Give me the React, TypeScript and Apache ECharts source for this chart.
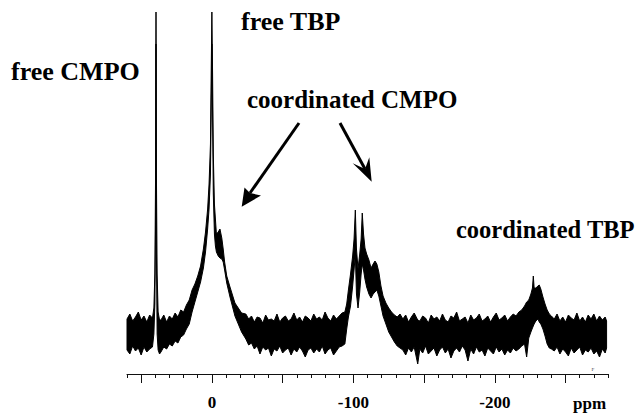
import React, { useEffect, useRef } from "react";
import * as echarts from "echarts";

// Chemical shift (ppm) sample positions
const PPM = [
  60, 58, 56, 54, 52, 50, 48, 46, 44, 42,
  41, 40.3, 39.8, 39.5, 39.2, 38.7, 38, 37,
  36, 34, 32, 30, 28, 26, 24, 22, 20, 18, 16, 14, 12, 10, 8, 6, 4.5, 3, 2, 1, 0.5,
  0, -0.5, -1, -1.8, -2.5, -3.2, -4.5, -5.7, -7, -8, -9, -10.5, -12.8, -16.3, -21,
  -24, -26, -28, -30, -32, -34, -36, -38, -40, -42, -44, -46, -48, -50, -52, -54,
  -56, -58, -60, -62, -64, -66, -68, -70, -72, -74, -76, -78, -80, -82, -84, -86,
  -88, -90, -92, -94,
  -95.3, -96.5, -98, -99.5, -100.5, -101.4, -102.2, -103.3, -104.5, -105.5, -106.3,
  -107.2, -108.2, -109.4, -111, -112.5, -114, -115.3, -116.6, -118, -119.5, -121,
  -123, -125, -127, -129, -131, -133,
  -135, -137, -139, -141, -143, -145.5, -147, -149, -151, -153, -155, -157, -159,
  -161, -163, -165, -167, -169, -171, -173, -175, -177, -179, -181, -183, -185,
  -187, -189, -191, -193, -195, -197, -199, -201, -203, -205, -207, -209, -211,
  -213, -215, -217,
  -219, -221, -222.5, -224, -225.5, -226.6, -227.2, -227.8, -229, -230.5, -231.4,
  -232.5, -234, -235.5, -237, -238.5, -240,
  -242, -244, -246, -248, -250, -252, -254, -256, -258, -260, -262, -264, -266,
  -268, -270, -272, -274, -276, -278, -279,
];

// Upper edge of the noisy trace (intensity, arbitrary units)
const UPPER = [
  55, 60, 53, 57, 62, 54, 58, 52, 59, 56,
  66, 100, 200, 362, 200, 100, 62, 54,
  54, 59, 52, 58, 55, 61, 57, 64, 62, 69, 74, 84, 90, 98, 108, 125, 142, 165, 190, 230, 300,
  362, 300, 220, 170, 155, 140, 142, 145, 136, 125, 112, 98, 87, 71, 61,
  60, 55, 58, 52, 57, 56, 51, 59, 54, 55, 53, 60, 52, 56, 58, 53,
  55, 61, 54, 57, 52, 58, 56, 53, 60, 55, 57, 54, 62, 56, 53, 59,
  55, 58, 61, 62,
  70, 84, 100, 118, 135, 164, 125, 105, 120, 135, 161,
  140, 126, 120, 114, 106, 110, 113, 110, 102, 88, 78,
  71, 66, 62, 59, 57, 60,
  55, 59, 52, 57, 61, 54, 53, 58, 56, 51, 59, 55, 57,
  53, 60, 54, 52, 58, 56, 62, 53, 55, 57, 51, 59, 54,
  56, 60, 53, 55, 58, 52, 57, 61, 54, 56, 59, 53, 57,
  60, 58, 62,
  64, 68, 72, 74, 80, 86, 98, 86, 86, 88, 89,
  85, 77, 70, 64, 60, 58,
  55, 60, 53, 57, 52, 59, 56, 54, 61, 53, 57, 52, 59,
  55, 60, 53, 58, 54, 57, 53,
];

// Lower edge of the noisy trace
const LOWER = [
  24, 20, 28, 23, 26, 19, 27, 22, 25, 27,
  40, 70, 150, 330, 120, 40, 24, 20,
  22, 27, 25, 30, 28, 33, 31, 37, 39, 45, 50, 62, 72, 82, 92, 106, 122, 145, 165, 200, 260,
  330, 260, 180, 140, 128, 122, 118, 116, 115, 112, 104, 91, 77, 58, 42,
  35, 29, 31, 25, 28, 20, 27, 24, 26, 18, 25, 23, 28, 21, 24, 26,
  19, 25, 22, 27, 23, 17, 24, 26, 21, 25, 22, 28, 20, 24, 26, 19,
  23, 27, 28, 30,
  45, 57, 68, 88, 104, 120, 80, 66, 82, 100, 110,
  104, 95, 87, 80, 76, 80, 82, 84, 78, 68, 58,
  50, 42, 37, 32, 28, 26,
  24, 19, 26, 22, 27, 10, 25, 21, 28, 20, 23, 26, 18,
  24, 27, 21, 25, 16, 23, 26, 22, 28, 24, 13, 25, 20,
  27, 22, 24, 18, 26, 23, 20, 27, 22, 25, 19, 24, 21,
  26, 23, 25,
  28, 30, 17, 36, 42, 46, 48, 50, 53, 55, 52,
  50, 45, 38, 30, 26, 25,
  23, 27, 20, 25, 22, 18, 26, 21, 24, 27, 19, 24, 22,
  26, 20, 23, 17, 25, 21, 26,
];

const LABELED_TICKS = [0, -100, -200];
const MAJOR_TICKS = [50, 0, -50, -100, -150, -200, -250];

const ANNOTATIONS = [
  { text: "free CMPO", x: 11, y: 71.5, size: 26 },
  { text: "free TBP", x: 241, y: 21.5, size: 26 },
  { text: "coordinated CMPO", x: 247, y: 99.5, size: 25 },
  { text: "coordinated TBP", x: 456, y: 229.5, size: 24.5 },
];

const SERIF = '"Liberation Serif", "Times New Roman", Times, serif';

export default function App() {
  const ref = useRef<HTMLDivElement>(null);

  useEffect(() => {
    if (!ref.current) return;
    const chart = echarts.init(ref.current, undefined, { renderer: "svg" });

    const traceData = PPM.map((p, i) => [p, UPPER[i], LOWER[i]]);
    const n = traceData.length;

    const renderTrace = (params: any, api: any) => {
      if (params.dataIndex !== 0) return null;
      const pts: number[][] = [];
      for (let i = 0; i < n; i++) {
        pts.push(api.coord([api.value(0, i), api.value(1, i)]));
      }
      for (let i = n - 1; i >= 0; i--) {
        pts.push(api.coord([api.value(0, i), api.value(2, i)]));
      }
      return {
        type: "polygon",
        shape: { points: pts },
        style: { fill: "#000", stroke: "#000", lineWidth: 1, lineJoin: "miter" },
        silent: true,
      };
    };

    const texts: any[] = ANNOTATIONS.map((a) => ({
      type: "text",
      x: a.x,
      y: a.y,
      style: {
        text: a.text,
        font: `bold ${a.size}px ${SERIF}`,
        fill: "#000",
        textAlign: "left",
        textVerticalAlign: "middle",
      },
    }));

    const arrows: any[] = [
      {
        type: "line",
        shape: { x1: 299, y1: 123, x2: 250, y2: 193 },
        style: { stroke: "#000", lineWidth: 3 },
      },
      {
        type: "polygon",
        shape: {
          points: [
            [241.7, 206.7],
            [244.5, 187.5],
            [250, 193],
            [261, 195.5],
          ],
        },
        style: { fill: "#000" },
      },
      {
        type: "line",
        shape: { x1: 340, y1: 123, x2: 365, y2: 169 },
        style: { stroke: "#000", lineWidth: 3 },
      },
      {
        type: "polygon",
        shape: {
          points: [
            [371.7, 181.7],
            [352.7, 163.3],
            [365, 169],
            [369.3, 157.3],
          ],
        },
        style: { fill: "#000" },
      },
    ];

    chart.setOption({
      animation: false,
      grid: { left: 127, right: 35, top: 12, bottom: 39 },
      xAxis: [
        {
          type: "value",
          min: -280,
          max: 60,
          interval: 10,
          inverse: true,
          position: "bottom",
          axisLine: { show: true, lineStyle: { color: "#111", width: 1 } },
          axisTick: { show: true, length: 4, lineStyle: { color: "#111", width: 1 } },
          axisLabel: {
            formatter: (v: number) => (LABELED_TICKS.includes(v) ? String(v) : ""),
            fontSize: 17,
            fontWeight: "bold",
            fontFamily: SERIF,
            color: "#000",
            margin: 20,
          },
          splitLine: { show: false },
        },
        {
          type: "value",
          min: -280,
          max: 60,
          inverse: true,
          position: "bottom",
          offset: 0,
          axisLine: { show: false },
          axisTick: {
            show: true,
            length: 9,
            customValues: MAJOR_TICKS,
            lineStyle: { color: "#111", width: 1 },
          },
          axisLabel: { show: false },
          splitLine: { show: false },
        },
      ],
      yAxis: { type: "value", min: 0, max: 362, show: false },
      series: [
        {
          type: "custom",
          coordinateSystem: "cartesian2d",
          xAxisIndex: 0,
          yAxisIndex: 0,
          data: traceData,
          encode: { x: 0, y: 1 },
          renderItem: renderTrace,
          clip: false,
          silent: true,
        },
      ],
      graphic: [
        ...texts,
        ...arrows,
        {
          type: "text",
          x: 573,
          y: 403.7,
          style: {
            text: "ppm",
            font: `bold 17px ${SERIF}`,
            fill: "#000",
            textAlign: "left",
            textVerticalAlign: "middle",
          },
        },
        {
          type: "text",
          x: 593,
          y: 369,
          style: {
            text: "F",
            font: `5px ${SERIF}`,
            fill: "#333",
            textAlign: "center",
            textVerticalAlign: "middle",
          },
        },
      ],
    });

    return () => chart.dispose();
  }, []);

  return (
    <div
      ref={ref}
      style={{ position: "fixed", left: 0, top: 0, width: 643, height: 413, background: "#fff" }}
    />
  );
}
